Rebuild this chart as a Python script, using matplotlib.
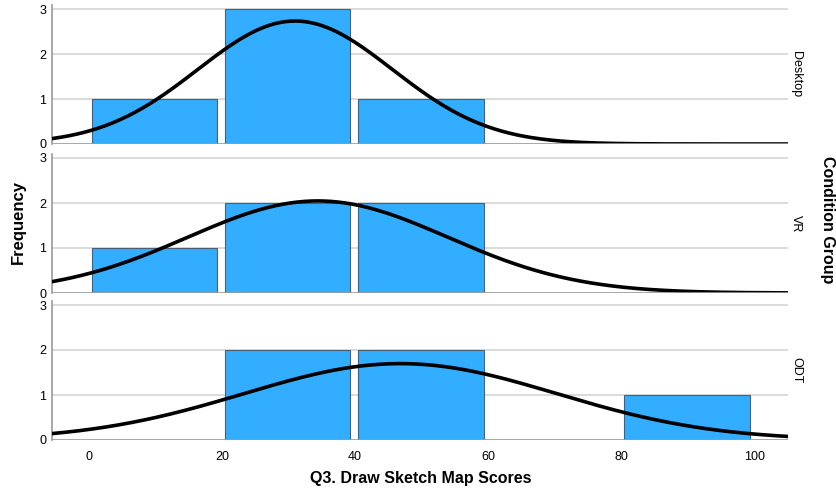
import numpy as np
import matplotlib
matplotlib.use("Agg")
import matplotlib.pyplot as plt

plt.rcParams['font.family'] = ['Liberation Sans', 'DejaVu Sans']

groups = ["Desktop", "VR", "ODT"]
bin_edges = [0, 20, 40, 60, 80, 100]
counts = {
    "Desktop": [1, 3, 1, 0, 0],
    "VR": [1, 2, 2, 0, 0],
    "ODT": [0, 2, 2, 0, 1],
}
# mean and standard deviation of each group's scores (normal curve overlay)
means = {"Desktop": 31.0, "VR": 34.4, "ODT": 46.8}
sds = {"Desktop": 14.6, "VR": 19.5, "ODT": 23.5}

bar_color = "#33adff"
grid_color = "#d4d4d4"

W, H = 837, 492
fig = plt.figure(figsize=(W / 100, H / 100), dpi=100)

left = 52 / W
width = (788 - 52) / W
ymax = 3.1
px_per_unit = 45
height = ymax * px_per_unit / H
bottoms_px = [144, 293, 440]

xs = np.linspace(-5.5, 105, 400)
axes = []
for g, bpx in zip(groups, bottoms_px):
    ax = fig.add_axes([left, (H - bpx) / H, width, height])
    axes.append(ax)
    c = counts[g]
    lo = np.array(bin_edges[:-1], dtype=float)
    ax.bar(lo + 0.45, c, width=18.85, align="edge", color=bar_color,
           edgecolor="#4a6072", linewidth=0.8, zorder=2)
    n = sum(c)
    bw = bin_edges[1] - bin_edges[0]
    mu, sd = means[g], sds[g]
    ys = n * bw / (sd * np.sqrt(2 * np.pi)) * np.exp(-0.5 * ((xs - mu) / sd) ** 2)
    ax.plot(xs, ys, color="black", lw=2.6, zorder=3, solid_capstyle="round")
    ax.set_xlim(-5.5, 105)
    ax.set_ylim(0, ymax)
    ax.set_yticks([0, 1, 2, 3])
    ax.set_yticklabels(["0", "1", "2", "3"], fontsize=9)
    for y in [1, 2, 3]:
        ax.axhline(y, color=grid_color, lw=1.2, zorder=1)
    ax.axhline(0, color="#9a9a9a", lw=1.2, zorder=4)
    for s in ["top", "right", "bottom"]:
        ax.spines[s].set_visible(False)
    ax.spines["left"].set_color("#9a9a9a")
    ax.spines["left"].set_linewidth(1.2)
    ax.tick_params(axis="y", length=0, pad=4, colors="black")
    ax.tick_params(axis="x", length=0)
    ax.text(1.011, 0.5, g, transform=ax.transAxes, rotation=-90,
            ha="center", va="center", fontsize=9)
    ax.patch.set_visible(False)

for ax in axes[:-1]:
    ax.set_xticks([])
axes[-1].set_xticks([0, 20, 40, 60, 80, 100])
axes[-1].set_xticklabels(["0", "20", "40", "60", "80", "100"], fontsize=9)
axes[-1].tick_params(axis="x", pad=8)

fig.text(421 / W, 1 - 478 / H, "Q3. Draw Sketch Map Scores", ha="center",
         va="center", fontsize=11.5, fontweight="bold")
fig.text(18 / W, 1 - 222 / H, "Frequency", rotation=90, ha="center",
         va="center", fontsize=12, fontweight="bold")
fig.text(828 / W, 1 - 220 / H, "Condition Group", rotation=-90, ha="center",
         va="center", fontsize=11.5, fontweight="bold")

fig.savefig("out.png", dpi=100, facecolor="white")
